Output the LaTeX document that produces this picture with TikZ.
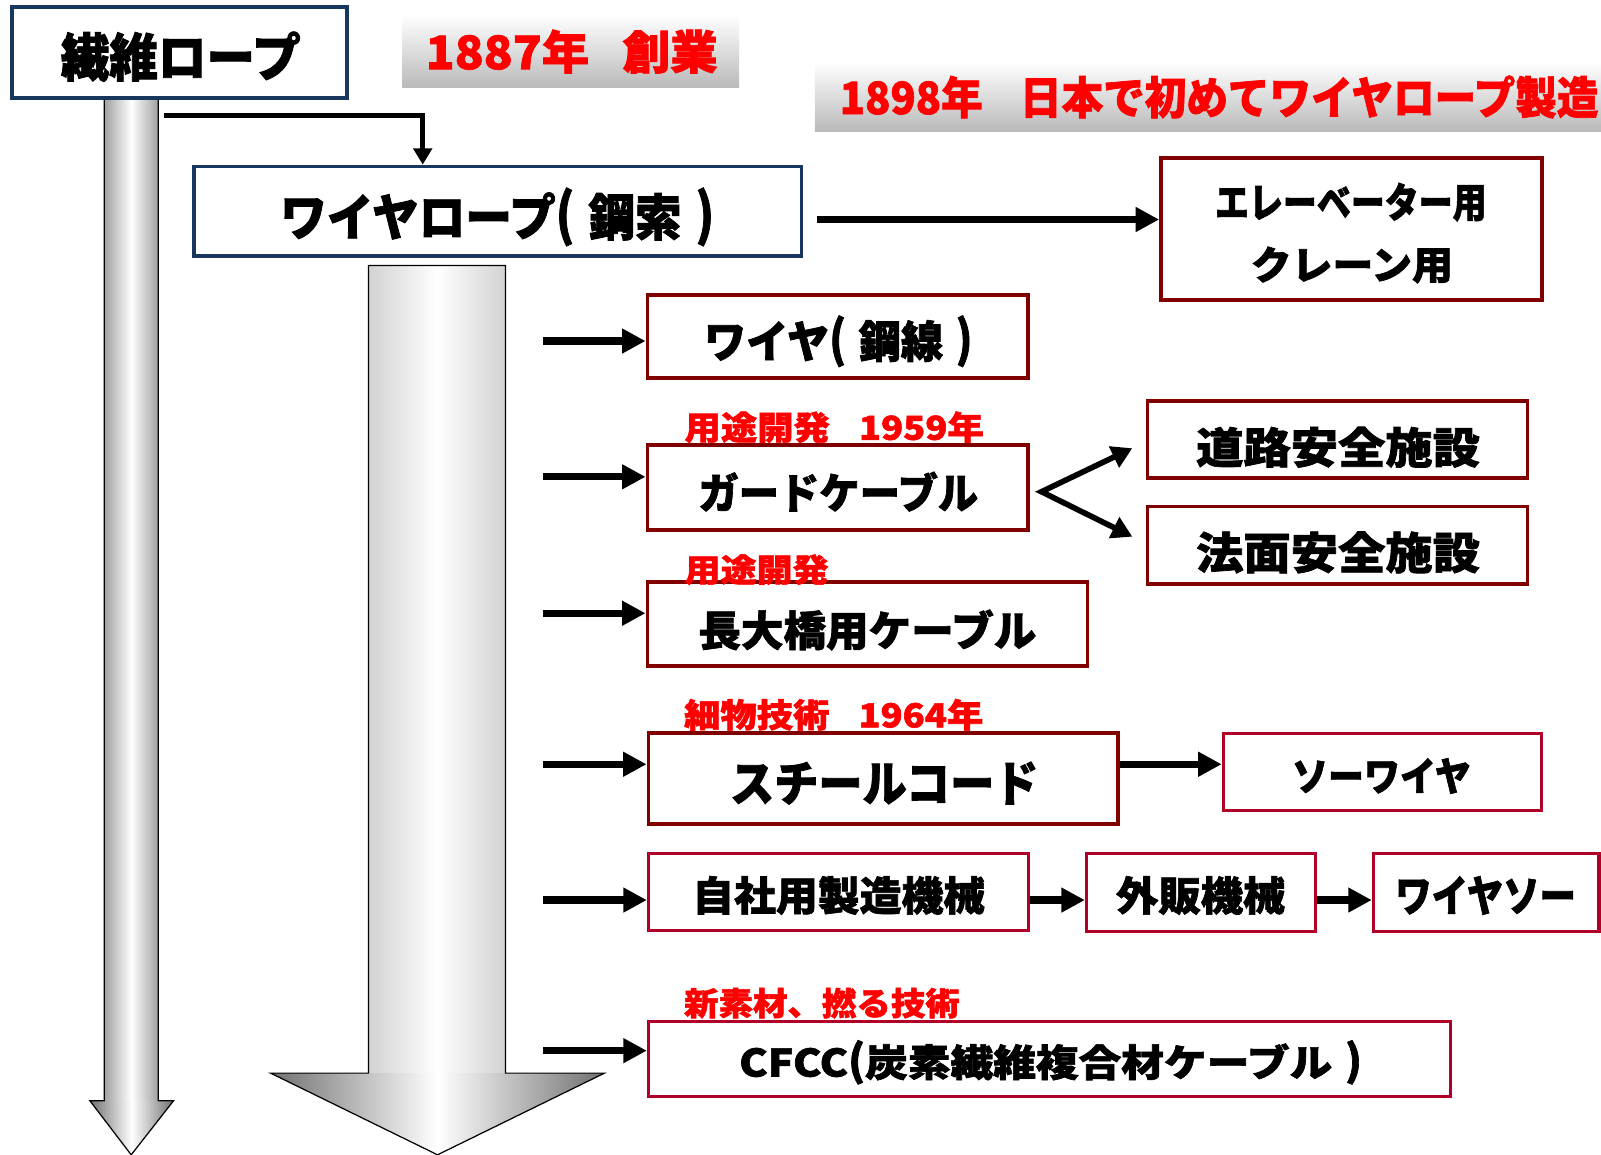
\documentclass[tikz,border=0pt]{standalone}
\usepackage{fontspec}
\usepackage{graphicx}
\usetikzlibrary{arrows.meta,calc}
\newfontfamily\jp{Noto Sans CJK JP}[BoldFeatures={FakeBold=1.6}]
\definecolor{navyb}{RGB}{23,55,94}
\definecolor{maroonb}{RGB}{128,0,0}
\definecolor{crimsonb}{RGB}{176,0,40}
\definecolor{redt}{RGB}{255,0,0}
\definecolor{shaftA}{RGB}{160,160,160}
\definecolor{shaftB}{RGB}{210,210,210}
\definecolor{headc}{RGB}{112,112,112}
\newcommand\jt[3]{\resizebox*{#1pt}{#2pt}{\fontsize{40}{48}\selectfont\jp\bfseries #3}}
\newcommand\gp{\hspace{0.3em}}
\newcommand\lpar{\smash{\raisebox{0.02em}{\scalebox{1}[1.12]{(}}}}
\newcommand\rpar{\smash{\raisebox{0.02em}{\scalebox{1}[1.12]{)}}}}
\begin{document}
\begin{tikzpicture}[x=1pt,y=-1pt,
  box/.style={draw, fill=white, rectangle, inner sep=0pt},
  navybox/.style={box, draw=navyb, line width=3.5pt},
  marbox/.style={box, draw=maroonb, line width=3.5pt},
  crbox/.style={box, draw=crimsonb, line width=3pt},
  txt/.style={inner sep=0pt, outer sep=0pt},
  redlab/.style={txt, text=redt},
  conn/.style={line width=7pt, -{Triangle[length=23pt,width=23pt]}},
  thinconn/.style={line width=4.5pt, -{Triangle[length=16pt,width=18pt]}},
  outl/.style={draw=black, line width=1.2pt, line join=miter}
]
\useasboundingbox (0,0) rectangle (1568,1131);
\fill[white] (0,0) rectangle (1568,1131);

% gray title bands
\shade[top color=white, bottom color=gray!55] (394,15) rectangle (724,86);
\shade[top color=white, bottom color=gray!55] (798,61) rectangle (1568,129);
\node[redlab] (t1) at (560,50.5) {\jt{286}{43}{1887年\hspace{0.7em}創業}};
\node[redlab] (t2) at (1194,95) {\jt{743}{42}{1898年\hspace{0.9em}日本で初めてワイヤロープ製造}};

% left thin block arrow
\shade[left color=shaftA, right color=shaftA, middle color=white] (102,97) rectangle (155,1078);
\shade[left color=headc, right color=headc, middle color=white] (88,1078) -- (170,1078) -- (128.5,1131) -- cycle;
\draw[outl] (102,97) -- (102,1078) -- (88,1078) -- (128.5,1131) -- (170,1078) -- (155,1078) -- (155,97) -- cycle;

% big block arrow
\shade[left color=shaftB, right color=shaftB, middle color=white] (361,260) rectangle (495,1051);
\shade[left color=headc, right color=headc, middle color=white] (265,1051) -- (592,1051) -- (428.5,1131) -- cycle;
\draw[outl] (361,260) -- (361,1051) -- (265,1051) -- (428.5,1131) -- (592,1051) -- (495,1051) -- (495,260) -- cycle;

% boxes
\node[navybox, minimum width=328pt, minimum height=89pt] (A) at (176,51.5) {};
\node[navybox, minimum width=595pt, minimum height=88pt] (B) at (487.5,207) {};
\node[marbox, minimum width=373pt, minimum height=139pt] (C) at (1323.5,224.5) {};
\node[marbox, minimum width=373pt, minimum height=81pt] (D) at (820.5,329.5) {};
\node[marbox, minimum width=373pt, minimum height=83pt] (E) at (820.5,477.5) {};
\node[marbox, minimum width=372pt, minimum height=75pt] (F) at (1310,430.5) {};
\node[marbox, minimum width=372pt, minimum height=76pt] (G) at (1310,534) {};
\node[marbox, minimum width=431pt, minimum height=82pt] (H) at (849.5,611) {};
\node[marbox, minimum width=460pt, minimum height=89pt] (I) at (865,762.5) {};
\node[crbox, minimum width=312pt, minimum height=76pt] (J) at (1354,756) {};
\node[crbox, minimum width=372pt, minimum height=75pt] (K) at (821,873.5) {};
\node[crbox, minimum width=224pt, minimum height=76pt] (L) at (1176,874) {};
\node[crbox, minimum width=221pt, minimum height=76pt] (M) at (1455.5,874) {};
\node[crbox, minimum width=786pt, minimum height=74pt] (N) at (1028,1037) {};

% box texts
\node[txt] (tA) at (177,55.5) {\jt{235}{49}{繊維ロープ}};
\node[txt] (tB) at (487,212) {\jt{425}{47}{ワイヤロープ\lpar\gp 鋼索\gp\rpar}};
\node[txt] (tC1) at (1323,198) {\jt{266}{38}{エレーベーター用}};
\node[txt] (tC2) at (1324,259.5) {\jt{198}{36}{クレーン用}};
\node[txt] (tD) at (821,334) {\jt{263}{41}{ワイヤ\lpar\gp 鋼線\gp\rpar}};
\node[txt] (tE) at (821,481.5) {\jt{274}{39}{ガードケーブル}};
\node[txt] (tF) at (1310.5,438) {\jt{278}{40}{道路安全施設}};
\node[txt] (tG) at (1310.5,541) {\jt{278}{41}{法面安全施設}};
\node[txt] (tH) at (849.5,617) {\jt{331}{40}{長大橋用ケーブル}};
\node[txt] (tI) at (866,767) {\jt{302}{42}{スチールコード}};
\node[txt] (tJ) at (1353,760) {\jt{175}{35}{ソーワイヤ}};
\node[txt] (tK) at (821.5,877) {\jt{287}{38}{自社用製造機械}};
\node[txt] (tL) at (1176,877) {\jt{166}{38}{外販機械}};
\node[txt] (tM) at (1455,877) {\jt{177}{38}{ワイヤソー}};
\node[txt] (tN) at (1029,1040) {\jt{610}{36}{CFCC\lpar 炭素繊維複合材ケーブル\gp\rpar}};

% red labels
\node[redlab] (l1) at (817,418.5) {\jt{293}{31}{用途開発\hspace{0.8em}1959年}};
\node[redlab] (l2) at (741,558) {\jt{141}{30}{用途開発}};
\node[redlab] (l3) at (816.5,700) {\jt{293}{31}{細物技術\hspace{0.8em}1964年}};
\node[redlab] (l4) at (805,982.5) {\jt{270}{30}{新素材、撚る技術}};

% connectors
\coordinate (e0) at (161,113);
\draw[thinconn] (e0) -| ([xshift=-73.5pt]B.north);
\draw[conn] ($(B.east)+(13,8)$) -- ($(C.west)+(0,-9.5)$);

\coordinate (sD) at (532,334);
\coordinate (sE) at (532,467);
\coordinate (sH) at (532,600.6);
\coordinate (sI) at (532,748.5);
\coordinate (sK) at (532,881.5);
\coordinate (sN) at (532,1029);
\draw[conn] (sD) -- (sD -| D.west);
\draw[conn] (sE) -- (sE -| E.west);
\draw[conn] (sH) -- (sH -| H.west);
\draw[conn] (sI) -- (sI -| I.west);
\draw[conn] (sK) -- (sK -| K.west);
\draw[conn] (sN) -- (sN -| N.west);

\draw[conn] (sI -| I.east) -- (sI -| J.west);
\draw[conn] (sK -| K.east) -- (sK -| L.west);
\draw[conn] (sK -| L.east) -- (sK -| M.west);

\coordinate (fk) at (1020,481.6);
\coordinate (f1) at (1109,439);
\coordinate (f2) at (1109,525.6);
\draw[line width=5.5pt, line join=miter, {Triangle[length=20pt,width=22pt]}-{Triangle[length=20pt,width=22pt]}] (f1) -- (fk) -- (f2);
\end{tikzpicture}
\end{document}
